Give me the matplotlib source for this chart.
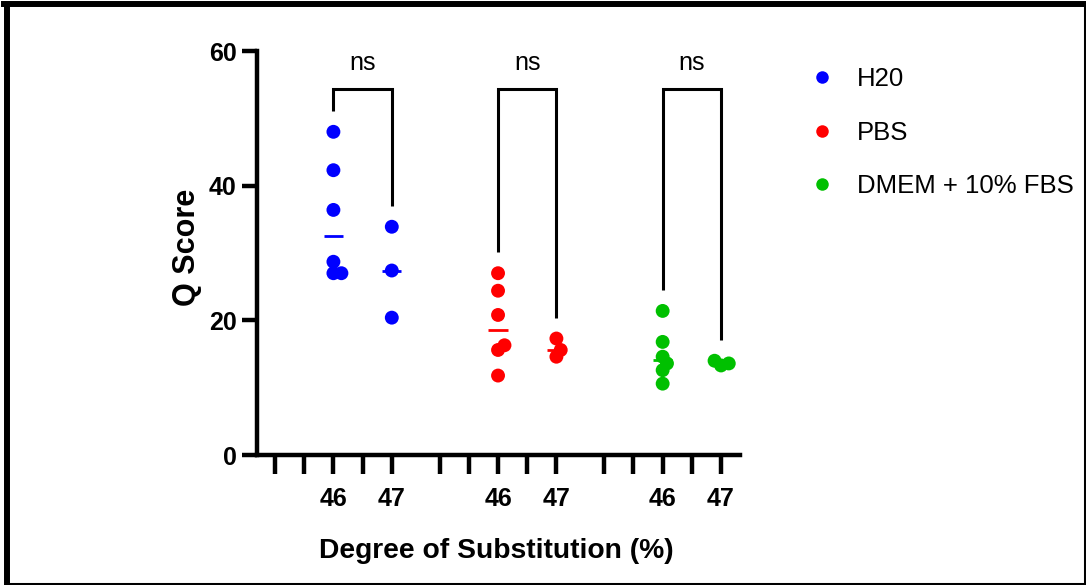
import numpy as np
import matplotlib
matplotlib.use("Agg")
from matplotlib import pyplot as plt
from matplotlib.lines import Line2D

plt.rcParams['font.family'] = ['Liberation Sans', 'DejaVu Sans']

# Q scores per medium and degree of substitution
GROUPS = ["H20", "PBS", "DMEM + 10% FBS"]
COLORS = ["#0000ff", "#ff0000", "#00c000"]
DS_LABELS = ["46", "47"]
h2o_46 = [48.0, 42.3, 36.4, 28.7, 27.0, 27.0]
h2o_47 = [33.9, 27.4, 20.4]
pbs_46 = [27.0, 24.4, 20.8, 16.3, 15.6, 11.8]
pbs_47 = [17.3, 15.6, 14.6]
dmem_46 = [21.4, 16.8, 14.6, 13.6, 12.6, 10.6]
dmem_47 = [14.0, 13.6, 13.3]
SIG = ["ns", "ns", "ns"]

DATA = [(h2o_46, h2o_47), (pbs_46, pbs_47), (dmem_46, dmem_47)]

SLOTS_PER_GROUP = 5
GROUP_STEP = 5.64
DS_SLOTS = [2, 4]   # slots where 46 and 47 sit inside a group
YMAX = 60


def swarm(values, d_px, xscale, yscale):
    # simple beeswarm: push each point sideways until it stops overlapping
    values = np.asarray(values, dtype=float)
    placed = []
    offsets = np.zeros(len(values))
    for i in np.argsort(values, kind="stable"):
        y = values[i] * yscale
        cands = [0.0]
        for dx, py in placed:
            dy = abs(y - py)
            if dy < d_px:
                w = np.sqrt(d_px ** 2 - dy ** 2)
                cands += [dx + w, dx - w]
        cands.sort(key=lambda c: (abs(c), -c))
        for c in cands:
            if all((c - dx) ** 2 + (y - py) ** 2 >= d_px ** 2 - 1e-6 for dx, py in placed):
                break
        placed.append((c, y))
        offsets[i] = c / xscale
    return offsets


def main():
    fig = plt.figure(figsize=(10.86, 5.85), dpi=100)
    ax = fig.add_axes([0.2366, 0.2222, 0.4448, 0.6906])

    last_tick = (len(GROUPS) - 1) * GROUP_STEP + SLOTS_PER_GROUP - 1
    ax.set_xlim(-0.62, last_tick + 0.65)
    ax.set_ylim(0, YMAX)

    w_px = ax.get_position().width * fig.get_figwidth() * fig.dpi
    h_px = ax.get_position().height * fig.get_figheight() * fig.dpi
    xscale = w_px / (ax.get_xlim()[1] - ax.get_xlim()[0])
    yscale = h_px / YMAX

    ticks, labels = [], []
    for g in range(len(GROUPS)):
        for k in range(SLOTS_PER_GROUP):
            ticks.append(g * GROUP_STEP + k)
            labels.append(DS_LABELS[DS_SLOTS.index(k)] if k in DS_SLOTS else "")

    for g, (series, color) in enumerate(zip(DATA, COLORS)):
        xs = []
        for vals, slot in zip(series, DS_SLOTS):
            x0 = g * GROUP_STEP + slot
            xs.append(x0)
            off = swarm(vals, 8.0, xscale, yscale)
            ax.scatter(x0 + off, vals, s=100, color=color, edgecolors="none",
                       zorder=3, clip_on=False)
            ax.hlines(np.median(vals), x0 - 0.33, x0 + 0.33, color=color,
                      lw=2.0, zorder=2)
        # significance bracket
        top = 54.4
        b1 = max(series[0]) + 3.1
        b2 = max(series[1]) + 3.1
        ax.plot([xs[0], xs[0], xs[1], xs[1]], [b1, top, top, b2], color="black",
                lw=2.2, solid_joinstyle="miter", solid_capstyle="butt", clip_on=False)
        ax.text((xs[0] + xs[1]) / 2, 57.2, SIG[g], ha="center", va="baseline",
                fontsize=18)

    ax.set_xticks(ticks)
    ax.set_xticklabels(labels, fontsize=18, fontweight="bold")
    ax.set_yticks([0, 20, 40, 60])
    ax.set_yticklabels(["0", "20", "40", "60"], fontsize=18, fontweight="bold")

    for side in ["top", "right"]:
        ax.spines[side].set_visible(False)
    for side in ["left", "bottom"]:
        ax.spines[side].set_linewidth(3.2)
        ax.spines[side].set_capstyle("projecting")
    ax.tick_params(axis="y", length=10.8, width=3.2, pad=4)
    ax.tick_params(axis="x", length=13.7, width=3.2, pad=9)

    ax.text(-0.145, 0.515, "Q Score", transform=ax.transAxes, rotation=90,
            ha="center", va="center", fontsize=22, fontweight="bold")
    ax.text(0.495, -0.255, "Degree of Substitution (%)", transform=ax.transAxes,
            ha="center", va="baseline", fontsize=20.3, fontweight="bold")

    handles = [Line2D([], [], marker="o", ls="", color=c, markersize=9,
                      markeredgewidth=0) for c in COLORS]
    fig.legend(handles, GROUPS, loc="upper left",
               bbox_to_anchor=(812 / 1086, 1 - 67 / 585), frameon=False,
               borderpad=0, borderaxespad=0, handlelength=0.8, handletextpad=0.95,
               labelspacing=1.15, fontsize=18.5)

    # outer frame around the figure
    W, H = 1086, 585
    frame = [([7, 7], [4, 583.5], 4.3), ([4, 1084.5], [4, 4], 4.3),
             ([1084.5, 1084.5], [4, 583.5], 2.2), ([7, 1084.5], [583.5, 583.5], 2.2)]
    for xs_, ys_, lw in frame:
        fig.add_artist(Line2D([x / W for x in xs_], [1 - y / H for y in ys_],
                              transform=fig.transFigure, color="black", lw=lw))

    fig.savefig("out.png", dpi=100)


if __name__ == "__main__":
    main()
